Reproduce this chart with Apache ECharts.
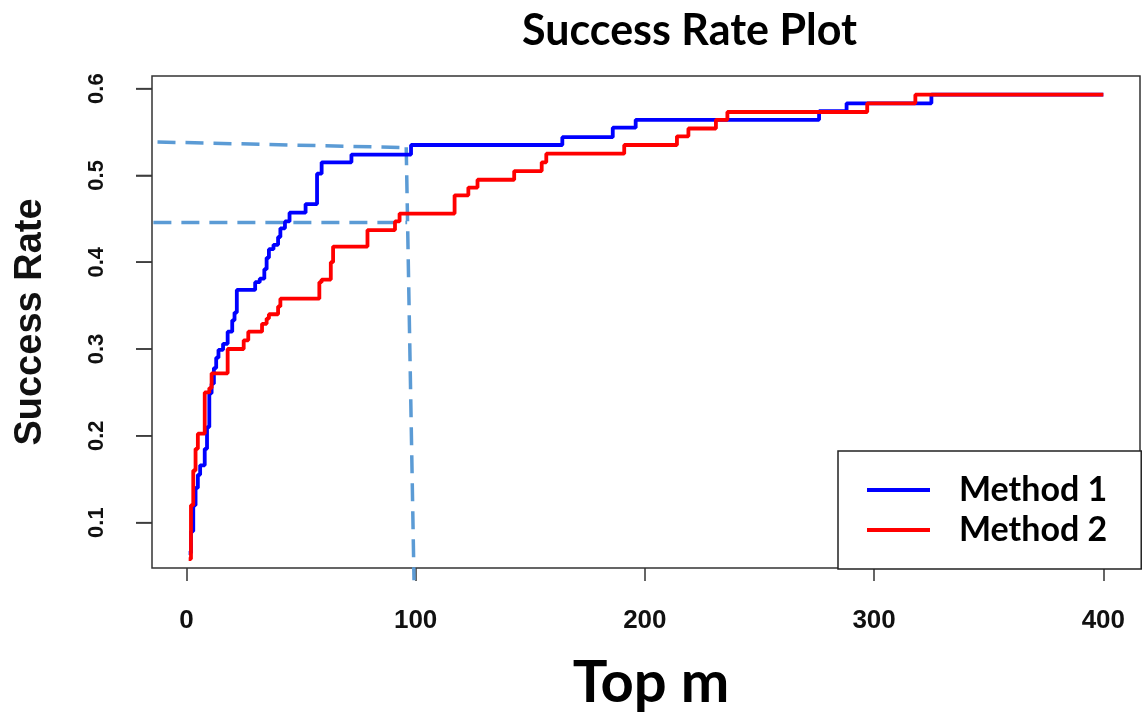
<!DOCTYPE html>
<html>
<head>
<meta charset="utf-8">
<script src="https://cdn.jsdelivr.net/npm/echarts@6/dist/echarts.min.js"></script>
<style>
  html, body { margin: 0; padding: 0; background: #ffffff; }
  #chart { width: 1146px; height: 718px; }
</style>
</head>
<body>
<div id="chart"></div>
<script>
// Tick values for each axis
const topMTicks = [0, 100, 200, 300, 400];
const rateTicks = [0.1, 0.2, 0.3, 0.4, 0.5, 0.6];

// Method 1: success rate at each top-m where the rate changes (held until next point)
const method1TopM = [1, 2, 3, 4, 5, 6, 8, 9, 10, 11, 12, 13, 14, 16, 18, 20, 21, 22,
  30, 32, 34, 35, 36, 38, 40, 41, 43, 45, 52, 57, 59, 72, 98, 164, 186, 196, 276, 288, 325, 400];
const method1Rate = [0.065, 0.09, 0.12, 0.14, 0.155, 0.166, 0.185, 0.21, 0.249, 0.26, 0.278, 0.29, 0.299, 0.306, 0.32, 0.333, 0.342, 0.368,
  0.377, 0.381, 0.392, 0.405, 0.415, 0.42, 0.429, 0.439, 0.447, 0.457, 0.467, 0.502, 0.515, 0.524, 0.535, 0.544, 0.555, 0.564, 0.574, 0.583, 0.593, 0.593];

// Method 2
const method2TopM = [1, 2, 3, 4, 5, 8, 10, 11, 18, 25, 27, 33, 35, 36, 40, 41, 58, 59, 63, 64,
  79, 91, 93, 117, 123, 127, 143, 155, 157, 191, 214, 219, 231, 236, 297, 318, 400];
const method2Rate = [0.058, 0.12, 0.16, 0.185, 0.2025, 0.25, 0.255, 0.272, 0.30, 0.31, 0.32, 0.329, 0.335, 0.34, 0.349, 0.358, 0.377, 0.38, 0.40, 0.418,
  0.437, 0.447, 0.456, 0.477, 0.486, 0.495, 0.505, 0.515, 0.525, 0.535, 0.545, 0.554, 0.564, 0.573, 0.583, 0.593, 0.593];

// Dashed guide lines marking the top-100 rates: [topM, rate] end points
const guideUpper = [[-12.6, 0.5385], [96.3, 0.532]];
const guideLower = [[-14.4, 0.4456], [96.3, 0.4456]];
const guideVertical = [[95.9, 0.5324], [99.3, 0.0335]];

const X_MIN = -15, X_MAX = 416;
const Y_MIN = 0.0477, Y_MAX = 0.6145;

const pairs = (xs, ys) => xs.map((x, i) => [x, ys[i]]);

const helv = "'Liberation Sans', Arial, Helvetica, sans-serif";
const calibriLike = "Lato, 'Open Sans', sans-serif";
const guideStyle = { color: '#5b9bd5', width: 3.5, type: [18, 10] };

const chart = echarts.init(document.getElementById('chart'));

const guideSeries = (data) => ({
  type: 'line',
  data: data,
  showSymbol: false,
  symbol: 'none',
  clip: false,
  silent: true,
  lineStyle: guideStyle,
  z: 1
});

chart.setOption({
  animation: false,
  backgroundColor: '#ffffff',
  title: {
    text: 'Success Rate Plot',
    left: 517,
    top: 5,
    textStyle: { fontFamily: calibriLike, fontWeight: 'bold', fontSize: 43, color: '#000' }
  },
  grid: {
    left: 152, right: 6, top: 76, bottom: 150,
    show: true, borderColor: '#333', borderWidth: 1.5
  },
  legend: {
    data: ['Method 1', 'Method 2'],
    orient: 'vertical',
    left: 838,
    top: 451,
    padding: [22, 34, 22, 29],
    itemGap: 6,
    itemWidth: 63,
    itemHeight: 4,
    icon: 'rect',
    borderColor: '#222',
    borderWidth: 1.5,
    backgroundColor: '#ffffff',
    textStyle: { fontFamily: calibriLike, fontWeight: 'bold', fontSize: 34, color: '#000', padding: [0, 0, 0, 24] }
  },
  xAxis: {
    type: 'value',
    min: X_MIN,
    max: X_MAX,
    name: 'Top m',
    nameLocation: 'middle',
    nameGap: 86,
    nameTextStyle: { fontFamily: calibriLike, fontWeight: 'bold', fontSize: 58, color: '#000', padding: [0, 0, 0, 10] },
    splitLine: { show: false },
    axisLine: { show: false, onZero: false },
    axisTick: { show: true, length: 13, customValues: topMTicks, lineStyle: { color: '#333', width: 1.5 } },
    axisLabel: {
      customValues: topMTicks,
      margin: 40,
      fontFamily: helv, fontWeight: 'bold', fontSize: 26, color: '#111'
    }
  },
  yAxis: {
    type: 'value',
    min: Y_MIN,
    max: Y_MAX,
    name: 'Success Rate',
    nameLocation: 'middle',
    nameRotate: 90,
    nameGap: 102,
    nameTextStyle: { fontFamily: helv, fontWeight: 'bold', fontSize: 38, color: '#111' },
    splitLine: { show: false },
    axisLine: { show: false, onZero: false },
    axisTick: { show: true, length: 16, customValues: rateTicks, lineStyle: { color: '#333', width: 1.5 } },
    axisLabel: {
      customValues: rateTicks,
      rotate: 90,
      margin: 44,
      formatter: (v) => v.toFixed(1),
      fontFamily: helv, fontWeight: 'bold', fontSize: 22, color: '#111'
    }
  },
  series: [
    // outward tick marks on the left frame edge, one per rate tick
    {
      type: 'scatter',
      data: rateTicks.map((v) => [X_MIN, v]),
      symbol: 'rect',
      symbolSize: [16, 1.5],
      symbolOffset: [-8, 0],
      itemStyle: { color: '#333' },
      clip: false,
      silent: true,
      z: 5
    },
    guideSeries(guideUpper),
    guideSeries(guideLower),
    guideSeries(guideVertical),
    {
      name: 'Method 1',
      type: 'line',
      step: 'end',
      data: pairs(method1TopM, method1Rate),
      showSymbol: false,
      symbol: 'none',
      color: '#0000ff',
      lineStyle: { color: '#0000ff', width: 3.8 },
      z: 3
    },
    {
      name: 'Method 2',
      type: 'line',
      step: 'end',
      data: pairs(method2TopM, method2Rate),
      showSymbol: false,
      symbol: 'none',
      color: '#ff0000',
      lineStyle: { color: '#ff0000', width: 3.8 },
      z: 4
    }
  ]
});
</script>
</body>
</html>
